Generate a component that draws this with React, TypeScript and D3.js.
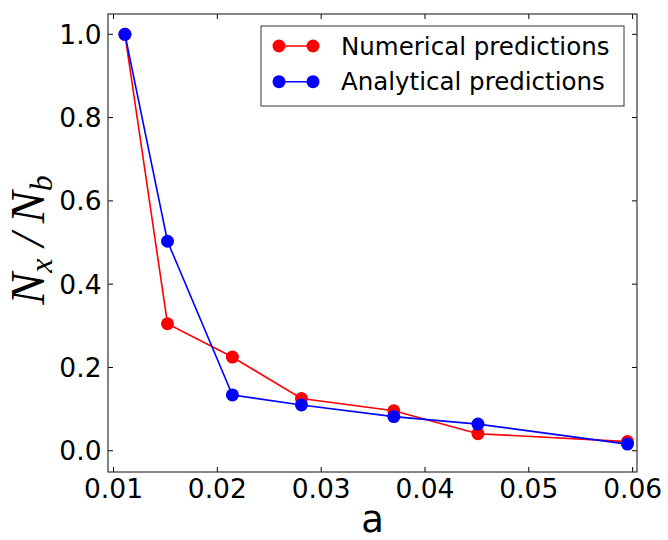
import React from "react";
import * as d3 from "d3";

const aValues = [0.0111, 0.0152, 0.02145, 0.0281, 0.0370, 0.0451, 0.0595];
const numerical = [1.0, 0.305, 0.225, 0.1255, 0.096, 0.041, 0.022];
const analytical = [1.0, 0.503, 0.134, 0.110, 0.082, 0.064, 0.016];
const xTicks = [0.01, 0.02, 0.03, 0.04, 0.05, 0.06];
const yTicks = [0.0, 0.2, 0.4, 0.6, 0.8, 1.0];
const seriesNames = ["Numerical predictions", "Analytical predictions"];
const seriesColors = ["#ff0000", "#0000ff"];

const W = 668, H = 540;
const L = 108, R = 637, T = 14, B = 472;

export default function App() {
  const x = d3.scaleLinear().domain([0.00947, 0.06042]).range([L, R]);
  const y = d3.scaleLinear().domain([-0.051, 1.0487]).range([B, T]);
  const line = d3.line<[number, number]>().x(d => x(d[0])).y(d => y(d[1]));
  const series = [numerical, analytical];
  const tickLen = 5;
  const fontTick = "DejaVu Sans, sans-serif";
  return (
    <svg width={W} height={H} style={{ position: "absolute", left: 0, top: 0 }}>
      <rect x={0} y={0} width={W} height={H} fill="white" />
      {series.map((s, i) => (
        <g key={i}>
          <path d={line(aValues.map((a, j) => [a, s[j]]) as [number, number][]) || ""} fill="none" stroke={seriesColors[i]} strokeWidth={1.6} />
          {aValues.map((a, j) => (
            <circle key={j} cx={x(a)} cy={y(s[j])} r={6.5} fill={seriesColors[i]} />
          ))}
        </g>
      ))}
      {xTicks.map(t => (
        <g key={"x" + t}>
          <line x1={x(t)} x2={x(t)} y1={B} y2={B - tickLen} stroke="#000" strokeWidth={1} />
          <line x1={x(t)} x2={x(t)} y1={T} y2={T + tickLen} stroke="#000" strokeWidth={1} />
          <text x={x(t)} y={498} textAnchor="middle" fontFamily={fontTick} fontSize={26.5}>{d3.format(".2f")(t)}</text>
        </g>
      ))}
      {yTicks.map(t => (
        <g key={"y" + t}>
          <line x1={L} x2={L + tickLen} y1={y(t)} y2={y(t)} stroke="#000" strokeWidth={1} />
          <line x1={R} x2={R - tickLen} y1={y(t)} y2={y(t)} stroke="#000" strokeWidth={1} />
          <text x={101.5} y={y(t) + 9.5} textAnchor="end" fontFamily={fontTick} fontSize={26.5}>{d3.format(".1f")(t)}</text>
        </g>
      ))}
      <rect x={L} y={T} width={R - L} height={B - T} fill="none" stroke="#333" strokeWidth={1.2} />
      <rect x={261} y={26} width={363} height={80} fill="white" stroke="#333" strokeWidth={1} />
      {seriesNames.map((n, i) => {
        const ly = 46 + i * 35.7;
        return (
          <g key={n}>
            <line x1={279} x2={313} y1={ly} y2={ly} stroke={seriesColors[i]} strokeWidth={1.6} />
            <circle cx={279} cy={ly} r={6.5} fill={seriesColors[i]} />
            <circle cx={313} cy={ly} r={6.5} fill={seriesColors[i]} />
            <text x={341} y={ly + 8.5} fontFamily={fontTick} fontSize={24.5}>{n}</text>
          </g>
        );
      })}
      <text x={(L + R) / 2} y={532} textAnchor="middle" fontFamily={fontTick} fontSize={37}>a</text>
      <text transform={`translate(44,240) rotate(-90)`} textAnchor="middle" fontFamily="Liberation Serif, serif" fontStyle="italic" fontSize={48}>
        <tspan>N</tspan>
        <tspan fontSize={32} dy={8}>x</tspan>
        <tspan dy={-8} dx={12}>/</tspan>
        <tspan dx={10}>N</tspan>
        <tspan fontSize={32} dy={8}>b</tspan>
      </text>
    </svg>
  );
}
